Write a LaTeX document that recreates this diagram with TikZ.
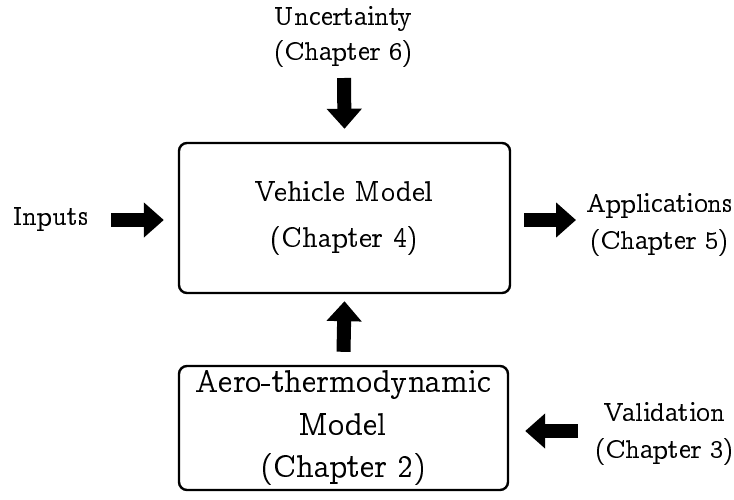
\documentclass[tikz,border=0pt]{standalone}
\usepackage[OT1]{fontenc}
\usepackage{ccfonts}
\DeclareFontFamily{OT1}{myccr}{}
\DeclareFontShape{OT1}{myccr}{m}{n}{<-> ccr10}{}
\renewcommand{\rmdefault}{myccr}
\usetikzlibrary{arrows.meta,calc}
\tikzset{
  box/.style={draw, line width=1.2pt, rounded corners=4pt, align=center, inner sep=0pt},
  lbl/.style={align=center, inner sep=0pt, font=\fontsize{13.4}{18.5}\selectfont},
  blk/.style={line width=7pt, -{Triangle[width=17pt,length=10pt]}},
}
\begin{document}
\begin{tikzpicture}[x=0.5pt,y=-0.5pt]
\useasboundingbox (0,0) rectangle (734,499);
\node[box, minimum width=165.5pt, minimum height=75pt,
      font=\fontsize{14.4}{23}\selectfont] (veh) at (344.5,218) {Vehicle Model\\(Chapter 4)};
\node[box, minimum width=164.5pt, minimum height=62pt,
      font=\fontsize{16}{21.3}\selectfont] (aero) at (343.5,428) {Aero-thermodynamic\\Model\\(Chapter 2)};
\node[lbl, font=\fontsize{13.4}{17.5}\selectfont] (unc) at (344,37) {Uncertainty\\(Chapter 6)};
\node[lbl, anchor=west] (inp) at (13,219) {Inputs};
\node[lbl] (app) at (660,225) {Applications\\(Chapter 5)};
\node[lbl] (val) at (665,434) {Validation\\(Chapter 3)};
\coordinate (dT) at (344,78);
\coordinate (iT) at (111,220);
\coordinate (aH) at (576,220);
\coordinate (vT) at (578,431);
\draw[blk] (dT) -- ($(veh.north)+(0,-13)$);
\draw[blk] (iT) -- ($(veh.west |- iT)+(-14,0)$);
\draw[blk] ($(veh.east)+(13,2)$) -- (aH);
\draw[blk] ($(aero.north)+(0,-13)$) -- ($(veh.south)+(0,7)$);
\draw[blk] (vT) -- ($(aero.east)+(16,3)$);
\end{tikzpicture}
\end{document}
